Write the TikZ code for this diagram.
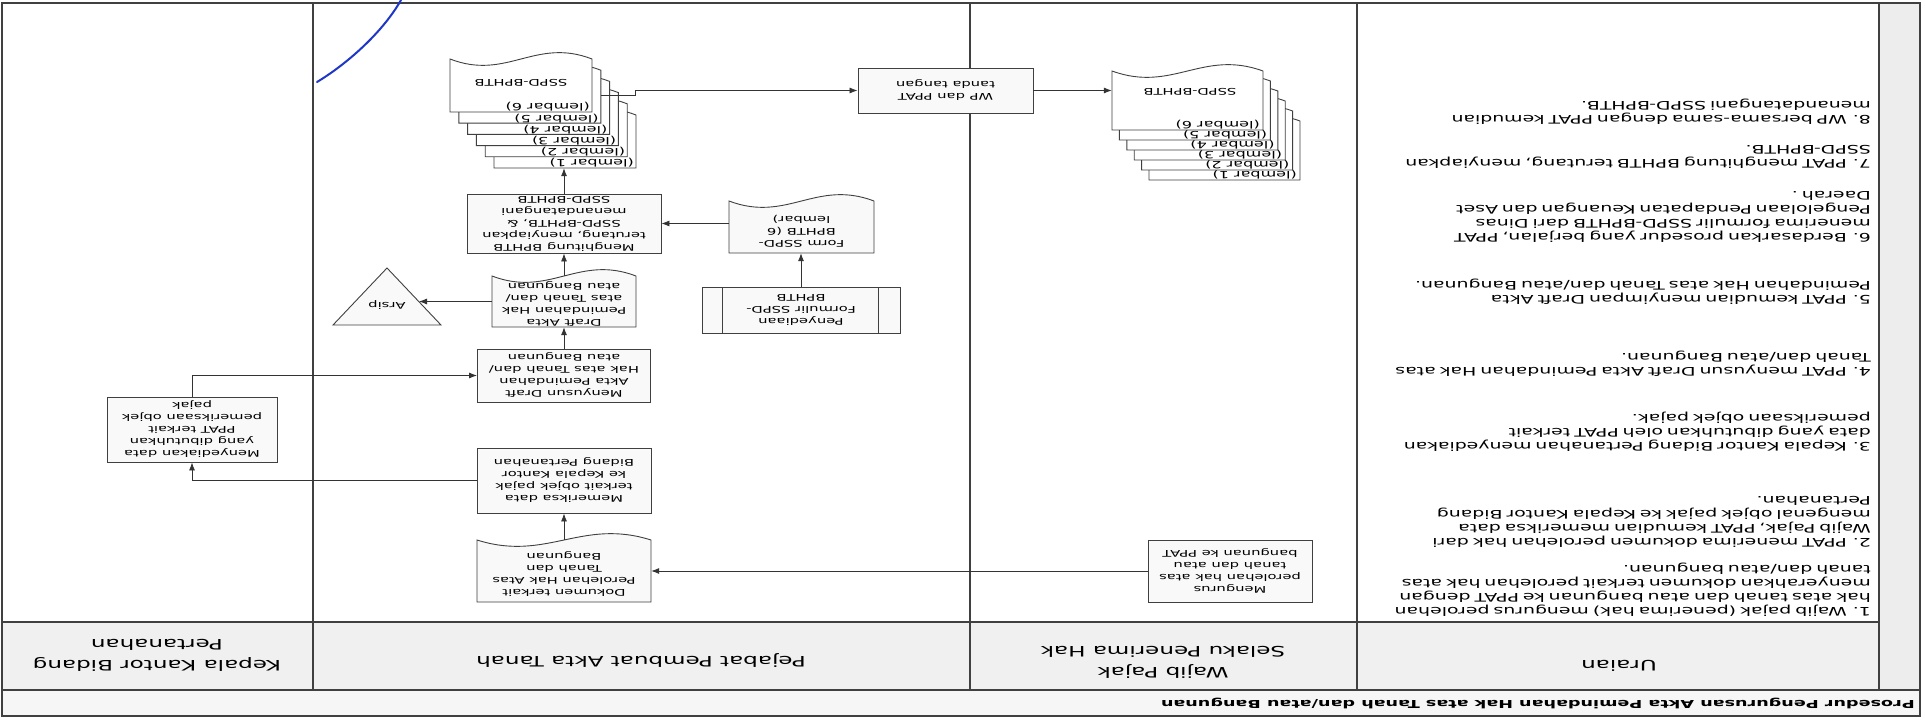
\documentclass[tikz,border=0pt]{standalone}
\usepackage{fontspec}
\setmainfont{DejaVu Sans}[FakeStretch=1.6]
\usetikzlibrary{arrows.meta,calc}
\newcommand\boxfont{\fontsize{9.2}{12}\selectfont}
\newcommand\itemfont{\fontsize{11.8}{14}\selectfont}
\newcommand\headfont{\fontsize{14.4}{21}\selectfont}
\newcommand\lemfont{\fontsize{10}{11}\selectfont}
\newcommand\jl[1]{\makebox[\linewidth][s]{#1}\\}
\newcommand\docshape[4]{\path[docline] (#1,#4) -- (#3,#4) -- (#3,#2) .. controls ({0.4*#1+0.6*#3},{#2+22}) and ({0.6*#1+0.4*#3},{#2-22}) .. (#1,#2) -- cycle;}
\tikzset{
  tline/.style={line width=1.1pt, draw=black!75},
  docline/.style={draw=black!75, line width=0.9pt, fill=gray!5},
  sheet/.style={draw=black!75, line width=0.9pt, fill=white},
  box/.style={draw=black!75, line width=0.9pt, fill=gray!5, rectangle, inner sep=0pt, align=center, font=\boxfont},
  ghost/.style={rectangle, inner sep=0pt, align=center, font=\boxfont},
  arr/.style={draw=black!80, line width=0.8pt, -{Latex[length=8pt,width=6pt]}},
  item/.style={inner sep=0pt, anchor=north west, text width=505pt, align=left, font=\itemfont},
  head/.style={inner sep=0pt, align=center, font=\headfont},
  lem/.style={inner sep=0pt, font=\lemfont, anchor=base west},
  ttl/.style={inner sep=0pt, anchor=west, font=\bfseries\fontsize{11}{12}\selectfont},
  pen/.style={draw={rgb,255:red,30;green,55;blue,200}, line width=2pt, line cap=round},
}
\begin{document}
\begin{tikzpicture}[x=1pt,y=1pt]
\useasboundingbox (0,0) rectangle (1925,724);
\fill[white] (0,0) rectangle (1925,724);
\begin{scope}[rotate around={180:(962.5,362)}, transform shape]
% ---------- table ----------
\fill[gray!14] (5,3) rectangle (46,690);
\fill[gray!12] (46,622) rectangle (1923,690);
\fill[gray!7] (5,690) rectangle (1923,716);
\draw[tline] (5,3) rectangle (1923,716);
\draw[tline] (46,3) -- (46,690);
\draw[tline] (568,3) -- (568,690);
\draw[tline] (955,3) -- (955,690);
\draw[tline] (1612,3) -- (1612,690);
\draw[tline] (46,622) -- (1923,622);
\draw[tline, line width=1.8pt] (5,690) -- (1923,690);
\node[ttl] (title) at (10,703) {Prosedur Pengurusan Akta Pemindahan Hak atas Tanah dan/atau Bangunan};
% ---------- headers ----------
\node[head] (hU) at (306,666) {Uraian};
\node[head] (hW) at (762,662) {Wajib Pajak\\Selaku Penerima Hak};
\node[head] (hP) at (1284,660) {Pejabat Pembuat Akta Tanah};
\node[head] (hK) at (1768,655) {Kepala Kantor Bidang\\Pertanahan};
% ---------- uraian ----------
\node[item] (u1) at (54,617) {\noindent\jl{1. Wajib pajak (penerima hak) mengurus perolehan}\jl{hak atas tanah dan atau bangunan ke PPAT dengan}\jl{menyerahkan dokumen terkait perolehan hak atas}tanah dan/atau bangunan.};
\node[item] (u2) at (54,548) {\noindent\jl{2. PPAT menerima dokumen perolehan hak dari}\jl{Wajib Pajak, PPAT kemudian memeriksa data}\jl{mengenal objek pajak ke Kepala Kantor Bidang}Pertanahan.};
\node[item] (u3) at (54,452) {\noindent\jl{3. Kepala Kantor Bidang Pertanahan menyediakan}\jl{data yang dibutuhkan oleh PPAT terkait}pemeriksaan objek pajak.};
\node[item] (u4) at (54,377) {\noindent\jl{4. PPAT menyusun Draft Akta Pemindahan Hak atas}Tanah dan/atau Bangunan.};
\node[item] (u5) at (54,305) {\noindent\jl{5. PPAT kemudian menyimpan Draft Akta}Pemindahan Hak atas Tanah dan/atau Bangunan.};
\node[item] (u6) at (54,243) {\noindent\jl{6. Berdasarkan prosedur yang berjalan, PPAT}\jl{menerima formulir SSPD-BPHTB dari Dinas}\jl{Pengelolaan Pendapatan Keuangan dan Aset}Daerah .};
\node[item] (u7) at (54,169) {\noindent\jl{7. PPAT menghitung BPHTB terutang, menyiapkan}SSPD-BPHTB.};
\node[item] (u8) at (54,125) {\noindent\jl{8. WP bersama-sama dengan PPAT kemudian}menandatangani SSPD-BPHTB.};
% ---------- flow: Wajib Pajak ----------
\node[box, minimum width=164pt, minimum height=62pt] (mengurus) at (695,571) {Mengurus\\perolehan hak atas\\tanah dan atau\\bangunan ke PPAT};
\node[box, minimum width=175pt, minimum height=45pt] (wpbox) at (979.5,90.5) {WP dan PPAT\\tanda tangan};
% ---------- flow: PPAT ----------
\docshape{1274}{540}{1448}{602}
\node[ghost, minimum width=174pt, minimum height=62pt] (dok) at (1361,571) {};
\node[ghost] (dokT) at (1361,574) {Dokumen terkait\\Perolehan Hak Atas\\Tanah dan\\Bangunan};
\node[box, minimum width=174pt, minimum height=65pt] (memeriksa) at (1361,480.5) {Memeriksa data\\terkait objek pajak\\ke Kepala Kantor\\Bidang Pertanahan};
\node[box, minimum width=173pt, minimum height=53pt] (menyusun) at (1361,375.5) {Menyusun Draft\\Akta Pemindahan\\Hak atas Tanah dan/\\atau Bangunan};
\docshape{1289}{276}{1433}{327}
\node[ghost, minimum width=144pt, minimum height=51pt] (draft) at (1361,301.5) {};
\node[ghost] (draftT) at (1361,304) {Draft Akta\\Pemindahan Hak\\atas Tanah dan/\\atau Bangunan};
\path[docline] (1484,325) -- (1592,325) -- (1538,268) -- cycle;
\node[ghost] (arsip) at (1538,305) {Arsip};
\coordinate (arsipE) at (1506,301.5);
\node[box, minimum width=194pt, minimum height=59pt] (menghitung) at (1361,223.5) {Menghitung BPHTB\\terutang, menyiapkan\\SSPD-BPHTB, \&\\menandatangani\\SSPD-BPHTB};
\docshape{1051}{201}{1196}{253}
\node[ghost, minimum width=145pt, minimum height=52pt] (form) at (1123.5,227) {};
\node[ghost] (formT) at (1123.5,231) {Form SSPD-\\BPHTB (6\\lembar)};
\node[box, minimum width=198pt, minimum height=46pt] (penyediaan) at (1124,310) {Penyediaan\\Formulir SSPD-\\BPHTB};
\draw[draw=black!75, line width=0.9pt] ([xshift=22pt]penyediaan.north west) -- ([xshift=22pt]penyediaan.south west);
\draw[draw=black!75, line width=0.9pt] ([xshift=-21pt]penyediaan.north east) -- ([xshift=-21pt]penyediaan.south east);
% stack in PPAT column
\foreach \k in {5,4,3,2,1,0} {
  \pgfmathsetmacro\xa{1333-8.8*\k}
  \pgfmathsetmacro\ya{59+11.2*\k}
  \pgfmathsetmacro\xb{\xa+142}
  \pgfmathsetmacro\yt{\ya+53}
  \pgfmathtruncatemacro\lab{6-\k}
  \path[sheet] (\xa,\yt) -- (\xb,\yt) -- (\xb,\ya) .. controls ({0.4*\xa+0.6*\xb},{\ya+22}) and ({0.6*\xa+0.4*\xb},{\ya-22}) .. (\xa,\ya) -- cycle;
  \node[ghost, minimum width=142pt, minimum height=53pt] (sspdP\k) at ({\xa+71},{\ya+26.5}) {};
  \node[lem] (lemP\k) at ({\xa+2},{\yt-8}) {(lembar \lab)};
}
\node[ghost] (sspdPT) at (1404,83) {SSPD-BPHTB};
% stack in WP column
\foreach \k in {5,4,3,2,1,0} {
  \pgfmathsetmacro\xa{662-7.4*\k}
  \pgfmathsetmacro\ya{71+10*\k}
  \pgfmathsetmacro\xb{\xa+151}
  \pgfmathsetmacro\yt{\ya+59}
  \pgfmathtruncatemacro\lab{6-\k}
  \path[sheet] (\xa,\yt) -- (\xb,\yt) -- (\xb,\ya) .. controls ({0.4*\xa+0.6*\xb},{\ya+22}) and ({0.6*\xa+0.4*\xb},{\ya-22}) .. (\xa,\ya) -- cycle;
  \node[ghost, minimum width=151pt, minimum height=59pt] (sspdW\k) at ({\xa+75.5},{\ya+29.5}) {};
  \node[lem] (lemW\k) at ({\xa+3},{\yt-8}) {(lembar \lab)};
}
\node[ghost] (sspdWT) at (735,92) {SSPD-BPHTB};
% ---------- flow: Kepala Kantor ----------
\node[box, minimum width=170pt, minimum height=65pt] (menyediakan) at (1733,429.5) {Menyediakan data\\yang dibutuhkan\\PPAT terkait\\pemeriksaan objek\\pajak};
% ---------- connectors ----------
\coordinate (jog) at (1290,95);
\draw[arr] (mengurus.east) -- (mengurus.east -| dok.west);
\draw[arr] (dok.south) -- (memeriksa.north);
\draw[arr] (memeriksa.east) -| (menyediakan.north);
\draw[arr] (menyediakan.south) |- (menyusun.east);
\draw[arr] (menyusun.south) -- (draft.north);
\draw[arr] (draft.east) -- (draft.east -| arsipE);
\draw[arr] (draft.south) -- (menghitung.north);
\draw[arr] (penyediaan.south) -- (penyediaan.south |- form.north);
\draw[arr] (form.east |- menghitung.west) -- (menghitung.west);
\draw[arr] (menghitung.south) -- (menghitung.south |- sspdP5.north);
\draw[arr] (sspdP1.west |- jog) -- (jog) |- (wpbox.east);
\draw[arr] (wpbox.west) -- (wpbox.west -| sspdW0.east);
% ---------- pen mark ----------
\draw[pen] (1608,82) .. controls (1578,64) and (1542,32) .. (1524,0);
\end{scope}
\end{tikzpicture}
\end{document}
